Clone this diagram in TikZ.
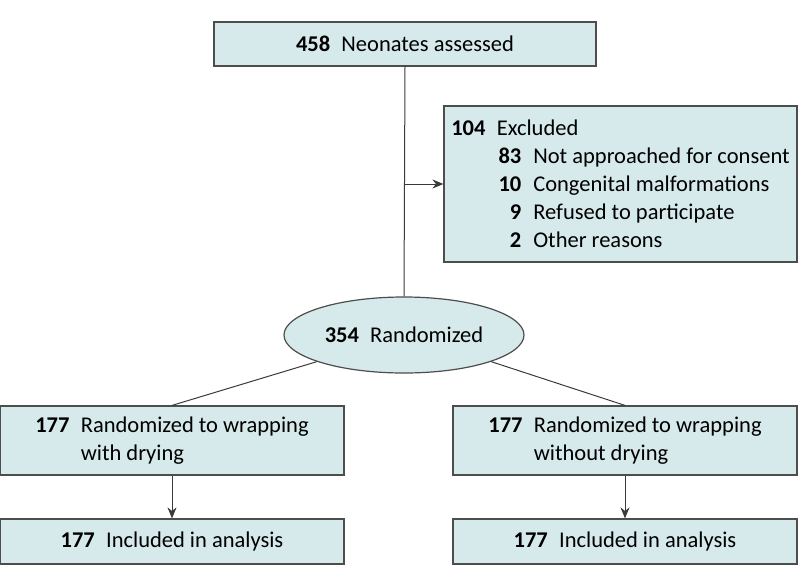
\documentclass[tikz,border=0pt]{standalone}
\usepackage{fontspec}
\setmainfont{Carlito}
\usetikzlibrary{shapes.geometric,arrows.meta}

\definecolor{boxfill}{HTML}{D6E9EB}
\definecolor{boxline}{HTML}{4D4D4D}
\definecolor{linkline}{HTML}{3A3A3A}

\newcommand{\num}[1]{\textbf{#1}\enspace}
\newcommand{\subrow}[2]{\hspace*{47pt}\makebox[23pt][r]{\textbf{#1}}\hspace{12pt}#2}

\tikzset{
  stagebox/.style={draw=boxline, fill=boxfill, line width=1.2pt, rectangle,
    inner sep=0pt, align=left},
  link/.style={draw=linkline, line width=1pt},
}

\begin{document}
\begin{tikzpicture}[x=1pt, y=-1pt, >={Stealth[length=11pt,width=9pt]},
  font=\fontsize{22.5}{28}\selectfont]
  \useasboundingbox (0,0) rectangle (798,582);

  \node[stagebox, minimum width=382pt, minimum height=44pt] (assessed) at (405,44)
    {\num{458}Neonates assessed};
  \node[stagebox, minimum width=353pt, minimum height=156pt] (excluded) at (620.5,184)
    {\num{104}Excluded\\
     \subrow{83}{Not approached for consent}\\
     \subrow{10}{Congenital malformations}\\
     \subrow{9}{Refused to participate}\\
     \subrow{2}{Other reasons}};
  \node[draw=boxline, fill=boxfill, line width=1.2pt, ellipse, inner sep=0pt,
    minimum width=240pt, minimum height=76pt] (randomized) at (404,335)
    {\num{354}Randomized};

  \node[stagebox, minimum width=344pt, minimum height=69pt] (withdry) at (172,440.5)
    {\begin{tabular}{@{}l@{\enspace}l@{}}
      \textbf{177} & Randomized to wrapping\\
      & with drying
     \end{tabular}};
  \node[stagebox, minimum width=344pt, minimum height=69pt] (nodry) at (625,440.5)
    {\begin{tabular}{@{}l@{\enspace}l@{}}
      \textbf{177} & Randomized to wrapping\\
      & without drying
     \end{tabular}};

  \node[stagebox, minimum width=344pt, minimum height=45pt] (analysisA) at (172,541.5)
    {\num{177}Included in analysis};
  \node[stagebox, minimum width=344pt, minimum height=45pt] (analysisB) at (625,541.5)
    {\num{177}Included in analysis};

  \draw[link] (assessed.south) -- (randomized.north);
  \draw[link, ->] (assessed.south |- excluded.west) -- (excluded.west);
  \draw[link] (randomized.197) -- (withdry.north);
  \draw[link] (randomized.343) -- (nodry.north);
  \draw[link, ->] (withdry.south) -- (analysisA.north);
  \draw[link, ->] (nodry.south) -- (analysisB.north);
\end{tikzpicture}
\end{document}
